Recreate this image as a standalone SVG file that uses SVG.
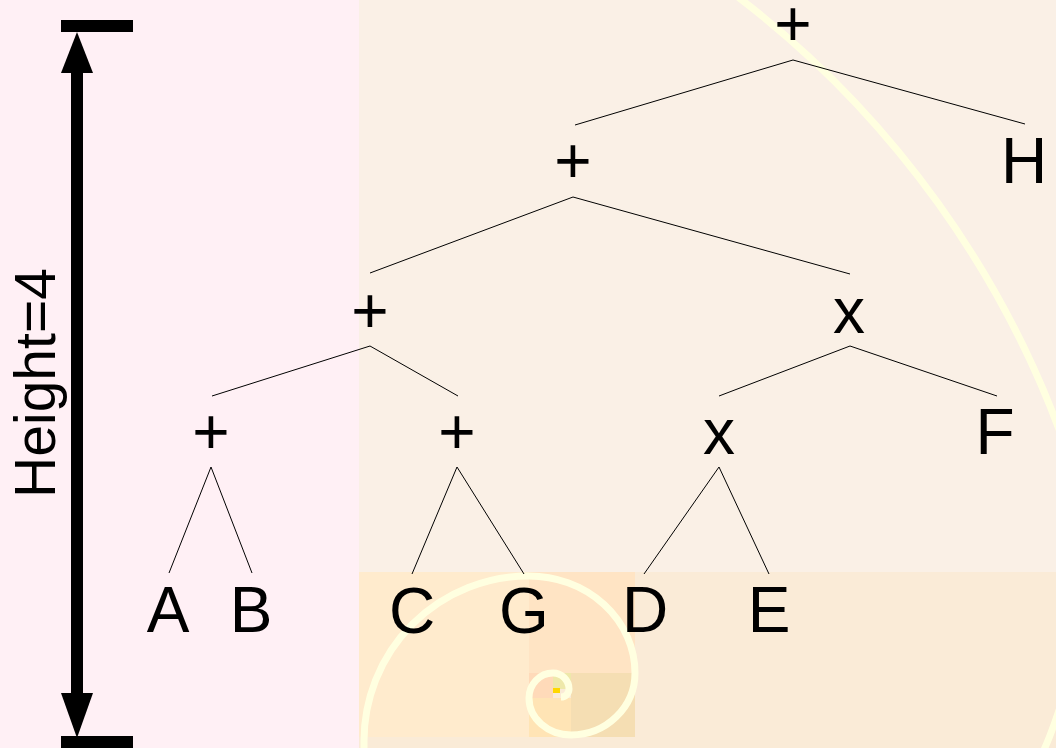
<svg xmlns="http://www.w3.org/2000/svg" width="1056" height="748" viewBox="0 0 1056 748">
  <style>
    .lbl { font-family: "Liberation Sans", Arial, sans-serif; font-size: 64px; fill: #000; text-anchor: middle; }
    .edge { stroke: #000; stroke-width: 1; fill: none; }
    .spiral { fill: none; stroke: #ffffe0; stroke-width: 7; }
    .bar { fill: #000; }
  </style>

  <!-- background tiling -->
  <g id="background">
    <rect x="0" y="0" width="359" height="748" fill="#fff0f5"/>
    <rect x="359" y="0" width="697" height="572" fill="#faf0e6"/>
    <rect x="359" y="572" width="697" height="176" fill="#faebd7"/>
    <rect x="359" y="572" width="170" height="165" fill="#ffebcd"/>
    <rect x="529" y="572" width="106" height="101" fill="#ffe4c4"/>
    <rect x="571" y="673" width="64" height="64" fill="#f5deb3"/>
    <rect x="529" y="698" width="42" height="39" fill="#ffe4b5"/>
    <rect x="529" y="673" width="24" height="25" fill="#ffdab9"/>
    <rect x="553" y="673" width="18" height="16" fill="#eee8aa"/>
    <rect x="553" y="688" width="7" height="5" fill="#ffd700"/>
  </g>

  <!-- spiral -->
  <g id="spiral">
    <path class="spiral" d="M 686,-40 A 975 975 0 0 1 1088,520"/>
    <path class="spiral" d="M 1081,572 A 446 446 0 0 1 635,1018"/>
    <path class="spiral" d="M 364,756 L 364,741 A 165 165 0 0 1 529,576 A 106 97 0 0 1 635,673 A 64 62 0 0 1 571,735 A 42 37 0 0 1 529,698 A 24 25 0 0 1 553,673 A 16 16 0 0 1 569,689 A 8 8 0 0 1 561,697"/>
  </g>

  <!-- height dimension -->
  <g id="height-marker">
    <rect class="bar" x="61" y="20" width="72" height="12"/>
    <rect class="bar" x="61" y="736" width="72" height="12"/>
    <rect class="bar" x="71" y="70" width="12" height="626"/>
    <polygon class="bar" points="77,32 61,73 93,73"/>
    <polygon class="bar" points="77,738 61,693 93,693"/>
    <text class="lbl" style="font-size:57px" transform="translate(55,383) rotate(-90)">Height=4</text>
  </g>

  <!-- connectors -->
  <g id="connectors">
    <line class="edge" x1="793" y1="60" x2="575" y2="125"/>
    <line class="edge" x1="793" y1="60" x2="1025" y2="124"/>
    <line class="edge" x1="573" y1="197" x2="370" y2="273"/>
    <line class="edge" x1="573" y1="197" x2="850" y2="274"/>
    <line class="edge" x1="370" y1="346" x2="212" y2="396"/>
    <line class="edge" x1="370" y1="346" x2="458" y2="396"/>
    <line class="edge" x1="850" y1="346" x2="719" y2="396"/>
    <line class="edge" x1="850" y1="346" x2="997" y2="396"/>
    <line class="edge" x1="211" y1="467" x2="169" y2="573"/>
    <line class="edge" x1="211" y1="467" x2="252" y2="573"/>
    <line class="edge" x1="457" y1="467" x2="412" y2="574"/>
    <line class="edge" x1="457" y1="467" x2="524" y2="574"/>
    <line class="edge" x1="719" y1="467" x2="644" y2="574"/>
    <line class="edge" x1="719" y1="467" x2="769" y2="574"/>
  </g>

  <!-- nodes -->
  <g id="n-root"><text class="lbl" x="793" y="46">+</text></g>
  <g id="n-plus2"><text class="lbl" x="573" y="183">+</text></g>
  <g id="n-H"><text class="lbl" x="1024" y="183">H</text></g>
  <g id="n-plus3"><text class="lbl" x="370" y="333">+</text></g>
  <g id="n-times3"><text class="lbl" x="849" y="333">x</text></g>
  <g id="n-plus4a"><text class="lbl" x="211" y="454">+</text></g>
  <g id="n-plus4b"><text class="lbl" x="457" y="454">+</text></g>
  <g id="n-times4"><text class="lbl" x="719" y="454">x</text></g>
  <g id="n-F"><text class="lbl" x="995" y="454">F</text></g>
  <g id="n-A"><text class="lbl" x="168" y="632">A</text></g>
  <g id="n-B"><text class="lbl" x="251" y="632">B</text></g>
  <g id="n-C"><text class="lbl" x="412" y="633">C</text></g>
  <g id="n-G"><text class="lbl" x="524" y="633">G</text></g>
  <g id="n-D"><text class="lbl" x="645" y="632">D</text></g>
  <g id="n-E"><text class="lbl" x="769" y="632">E</text></g>
</svg>
